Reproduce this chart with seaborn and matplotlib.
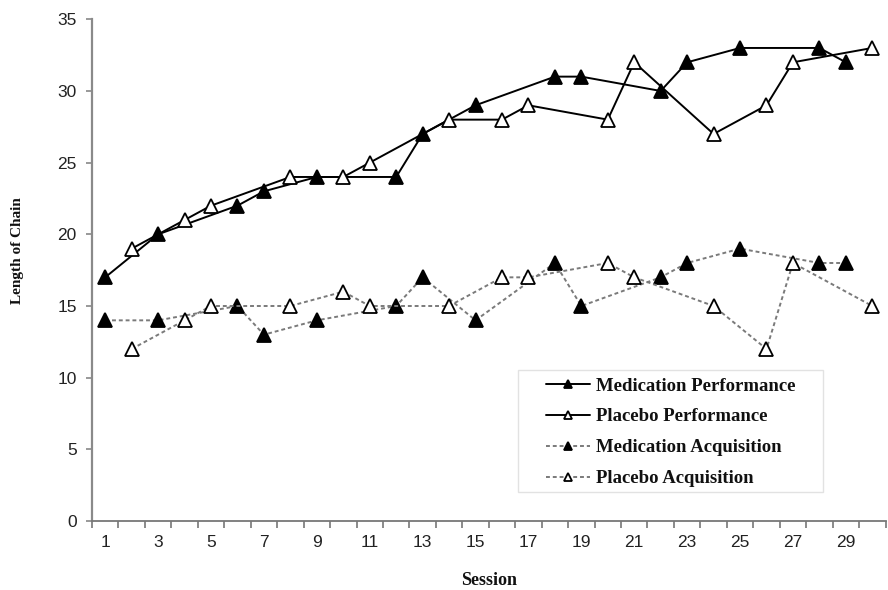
import matplotlib
matplotlib.use("Agg")
import matplotlib.pyplot as plt
import seaborn as sns
import pandas as pd
from matplotlib.patches import Rectangle
from matplotlib.ticker import FixedLocator, NullFormatter

# ---- data ----
med_sessions = [1, 3, 6, 7, 9, 12, 13, 15, 18, 19, 22, 23, 25, 28, 29]
pla_sessions = [2, 4, 5, 8, 10, 11, 14, 16, 17, 20, 21, 24, 26, 27, 30]
med_perf = [17, 20, 22, 23, 24, 24, 27, 29, 31, 31, 30, 32, 33, 33, 32]
pla_perf = [19, 21, 22, 24, 24, 25, 28, 28, 29, 28, 32, 27, 29, 32, 33]
med_acq = [14, 14, 15, 13, 14, 15, 17, 14, 18, 15, 17, 18, 19, 18, 18]
pla_acq = [12, 14, 15, 15, 16, 15, 15, 17, 17, 18, 17, 15, 12, 18, 15]
series_names = ["Medication Performance", "Placebo Performance",
                "Medication Acquisition", "Placebo Acquisition"]
x_tick_labels = [str(i) for i in range(1, 30, 2)]
y_ticks = [0, 5, 10, 15, 20, 25, 30, 35]

sns.set_theme(style="white")
plt.rcParams['font.family'] = ['Liberation Sans', 'DejaVu Sans']
serif = ['Liberation Serif', 'DejaVu Serif']

fig = plt.figure(figsize=(8.88, 5.90), dpi=100)
ax = fig.add_axes([0.1036, 0.1169, 0.8936, 0.8504])

spec = [
    (med_sessions, med_perf, series_names[0], 'black', '-', 'black'),
    (pla_sessions, pla_perf, series_names[1], 'black', '-', 'white'),
    (med_sessions, med_acq, series_names[2], '#7a7a7a', (0, (2, 1.5)), 'black'),
    (pla_sessions, pla_acq, series_names[3], '#7a7a7a', (0, (2, 1.5)), 'white'),
]
for xs, ys, name, lc, ls, fc in spec:
    df = pd.DataFrame({"Session": xs, "Length": ys})
    sns.lineplot(data=df, x="Session", y="Length", ax=ax, color=lc,
                 linestyle=ls, linewidth=1.4, marker='^', markersize=10,
                 markerfacecolor=fc, markeredgecolor='black',
                 markeredgewidth=1.3, label=name, zorder=3)

ax.set_xlim(0.5, 30.5)
ax.set_ylim(0, 35)
ax.set_yticks(y_ticks)
ax.set_yticklabels([str(v) for v in y_ticks], fontsize=12.5, color='#222222')
ax.set_xticks(list(range(1, 30, 2)))
ax.set_xticklabels(x_tick_labels, fontsize=12.5, color='#222222')
ax.xaxis.set_minor_locator(FixedLocator([i + 0.5 for i in range(0, 31)]))
ax.xaxis.set_minor_formatter(NullFormatter())
ax.tick_params(axis='x', which='major', length=0, pad=10)
ax.tick_params(axis='x', which='minor', length=5, width=1.2, color='#777777',
               direction='out', bottom=True)
ax.tick_params(axis='y', which='major', length=4, width=1.2, color='#888888',
               direction='out', left=True, pad=7)

for s in ['top', 'right']:
    ax.spines[s].set_visible(False)
ax.spines['left'].set_color('#8a8a8a')
ax.spines['left'].set_linewidth(1.6)
ax.spines['bottom'].set_color('#777777')
ax.spines['bottom'].set_linewidth(1.3)

ax.set_xlabel("Session", fontsize=13, fontweight='bold', family=serif,
              va='center', ha='center', color='#111111')
ax.xaxis.set_label_coords(0.5, -0.1176)
ax.set_ylabel("Length of Chain", fontsize=11, fontweight='bold', family=serif,
              va='center', ha='center', color='#111111')
ax.yaxis.set_label_coords(-0.0945, 0.538)

leg = ax.legend(loc='upper left', bbox_to_anchor=(0.5722, 0.286),
                frameon=False,
                prop={'family': serif, 'weight': 'bold', 'size': 13.5},
                handlelength=2.35, handletextpad=0.32, labelspacing=0.73,
                borderpad=0, borderaxespad=0, markerscale=0.6)
for t in leg.get_texts():
    t.set_color('#111111')

ax.add_patch(Rectangle((0.5369, 0.0578), 0.9212 - 0.5369, 0.3010 - 0.0578,
                       transform=ax.transAxes, fill=False,
                       edgecolor='#e2e2e2', linewidth=1.0, zorder=1,
                       clip_on=False))

fig.savefig("out.png", dpi=100)
